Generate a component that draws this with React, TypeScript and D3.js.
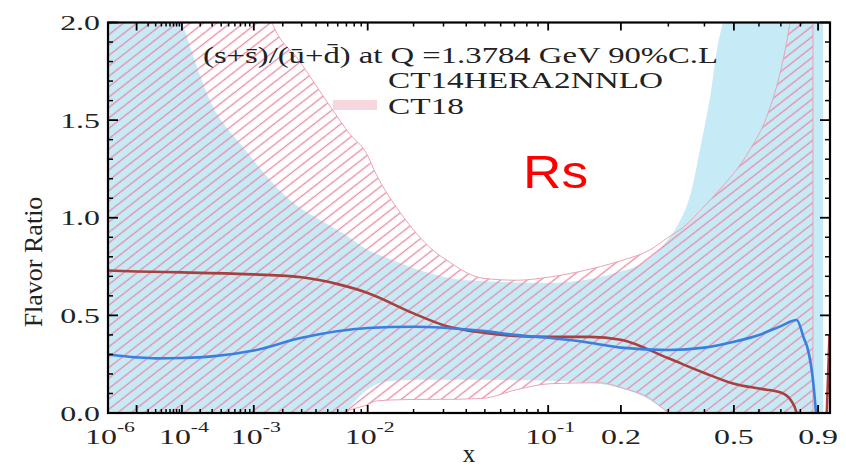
import React from "react";
import * as d3 from "d3";

const W = 846;
const H = 469;

// CT14HERA2NNLO 90% C.L. band (light blue)
const ct14BandX = [1e-6, 1e-5, 1e-4, 2.8e-4, 7.9e-4, 2.35e-3, 5.2e-3, 6.6e-3, 1e-2, 1.3e-2, 2.2e-2, 4e-2, 0.1, 0.15, 0.19, 0.25, 0.3, 0.32, 0.36, 0.39, 0.42, 0.44, 0.46, 0.6, 0.93];
const ct14BandHi = [3.2, 2.7, 2.0, 1.6, 1.35, 1.09, 0.96, 0.92, 0.835, 0.8, 0.73, 0.68, 0.666, 0.685, 0.717, 0.78, 0.89, 0.95, 1.13, 1.38, 1.64, 1.86, 2.0, 3.0, 3.5];
const ct14BandLo = [-0.6, -0.6, -0.6, -0.6, -0.5, -0.3, -0.05, 0.0, 0.12, 0.16, 0.17, 0.17, 0.165, 0.155, 0.135, 0.075, 0.0, -0.03, -0.1, -0.2, -0.3, -0.4, -0.5, -0.6, -0.6];

// CT18 90% C.L. band (pink hatch)
const ct18BandX = [1e-6, 1e-4, 1e-3, 1.56e-3, 2.89e-3, 5.5e-3, 7.4e-3, 9.8e-3, 1.15e-2, 1.64e-2, 2.6e-2, 3.28e-2, 4.05e-2, 4.9e-2, 7.2e-2, 0.102, 0.166, 0.2, 0.257, 0.3, 0.338, 0.4, 0.441, 0.563, 0.635, 0.711, 0.746, 0.87];
const ct18BandHi = [3.5, 3.0, 2.3, 2.0, 1.8, 1.55, 1.43, 1.33, 1.22, 1.03, 0.835, 0.77, 0.717, 0.69, 0.68, 0.697, 0.75, 0.78, 0.835, 0.9, 0.95, 1.06, 1.13, 1.35, 1.52, 1.81, 2.0, 3.0];
const ct18BandLo = [-0.6, -0.6, -0.5, -0.4, -0.2, -0.03, 0.015, 0.04, 0.062, 0.068, 0.07, 0.07, 0.072, 0.075, 0.12, 0.15, 0.155, 0.13, 0.075, 0.0, -0.05, -0.15, -0.25, -0.5, -0.6, -0.6, -0.6, -0.6];

// central curves
const ct14CentralX = [1e-6, 1e-5, 3e-5, 1e-4, 3e-4, 1e-3, 3e-3, 1e-2, 2e-2, 3e-2, 5e-2, 0.07, 0.1, 0.15, 0.2, 0.3, 0.4, 0.5, 0.6, 0.7, 0.78, 0.82, 0.84, 0.87, 0.89];
const ct14Central = [0.3, 0.285, 0.28, 0.282, 0.29, 0.32, 0.385, 0.435, 0.442, 0.437, 0.42, 0.4, 0.385, 0.36, 0.335, 0.323, 0.335, 0.365, 0.4, 0.445, 0.476, 0.38, 0.33, 0.17, -0.02];

const ct18CentralX = [1e-6, 1e-5, 1e-4, 1e-3, 3e-3, 6e-3, 1e-2, 2e-2, 3e-2, 5e-2, 0.07, 0.1, 0.15, 0.2, 0.3, 0.4, 0.5, 0.6, 0.7, 0.75, 0.78, 0.8, 0.85, 0.9, 0.94, 0.955, 0.97];
const ct18Central = [0.73, 0.725, 0.72, 0.71, 0.695, 0.66, 0.615, 0.51, 0.45, 0.41, 0.395, 0.39, 0.39, 0.375, 0.28, 0.205, 0.15, 0.125, 0.105, 0.065, 0.0, -0.15, -0.5, -0.6, -0.3, 0.05, 0.4];

// axes
const yTicks = [0, 0.5, 1, 1.5, 2];
const yTickLabels = ["0.0", "0.5", "1.0", "1.5", "2.0"];
const yMinorTicks = [0.1, 0.2, 0.3, 0.4, 0.6, 0.7, 0.8, 0.9, 1.1, 1.2, 1.3, 1.4, 1.6, 1.7, 1.8, 1.9];
const xTicks = [1e-6, 1e-4, 1e-3, 1e-2, 0.1, 0.2, 0.5, 0.9];
const xTickBase = ["10", "10", "10", "10", "10", "0.2", "0.5", "0.9"];
const xTickExp = ["-6", "-4", "-3", "-2", "-1", "", "", ""];
const xMajorUnlabeled = [1e-5];
const xMinorMantissa = [2, 3, 4, 5, 6, 7, 8, 9];
const xMinorDecades = [1e-5, 1e-4, 1e-3, 1e-2];
const xMinorExtra = [0.3, 0.4, 0.6, 0.7, 0.8];

const legendTitle = "(s+s\u0304)/(u\u0304+d\u0304) at Q =1.3784 GeV 90%C.L";
const legendNames = ["CT14HERA2NNLO", "CT18"];

const L = 108, R = 830, T = 22.5, B = 413;
const SERIF = "'Liberation Serif', 'Times New Roman', serif";

export default function App() {
  const x = d3.scalePow().exponent(0.2).domain([1e-6, 0.973]).range([L, R]);
  const y = d3.scaleLinear().domain([0, 2]).range([B, T]);

  const band = (xs: number[], lo: number[], hi: number[]) =>
    d3
      .area<number>()
      .x((i) => x(xs[i]))
      .y0((i) => y(lo[i]))
      .y1((i) => y(hi[i]))
      .curve(d3.curveMonotoneX)(xs.map((_, i) => i)) || "";
  const edge = (xs: number[], vs: number[]) =>
    d3
      .line<number>()
      .x((i) => x(xs[i]))
      .y((i) => y(vs[i]))
      .curve(d3.curveMonotoneX)(xs.map((_, i) => i)) || "";

  const ct14Band = band(ct14BandX, ct14BandLo, ct14BandHi);
  const ct18Band = band(ct18BandX, ct18BandLo, ct18BandHi);
  const ct14Line = edge(ct14CentralX, ct14Central);
  const ct18Line = edge(ct18CentralX, ct18Central);

  const xMinor = [
    ...xMinorDecades.flatMap((d) => xMinorMantissa.map((m) => m * d)),
    ...xMinorExtra,
  ].filter((v) => !xTicks.includes(v));
  const xMajor = [...xTicks, ...xMajorUnlabeled];

  const stretch = 1.45;

  return (
    <svg width={W} height={H} style={{ position: "absolute", left: 0, top: 0, background: "#fff" }}>
      <defs>
        <clipPath id="plotClip">
          <rect x={L} y={T} width={R - L} height={B - T} />
        </clipPath>
        <pattern id="hatch" patternUnits="userSpaceOnUse" width={8.2} height={8.2} patternTransform="rotate(-38)">
          <line x1={0} y1={4.1} x2={8.2} y2={4.1} stroke="#e98aa3" strokeWidth={1.3} />
        </pattern>
      </defs>

      <g clipPath="url(#plotClip)">
        <path d={ct14Band} fill="#c6eaf6" />
        <path d={ct18Band} fill="url(#hatch)" stroke="#eba3b5" strokeWidth={1} />
        <path d={ct18Line} fill="none" stroke="#a8403f" strokeWidth={2.6} />
        <path d={ct14Line} fill="none" stroke="#3a7fe0" strokeWidth={2.6} />
      </g>

      {/* frame */}
      <rect x={L} y={T} width={R - L} height={B - T} fill="none" stroke="#000" strokeWidth={2.2} />

      {/* y ticks */}
      {yTicks.map((v) => (
        <g key={"ym" + v}>
          <line x1={L} x2={L + 10} y1={y(v)} y2={y(v)} stroke="#000" strokeWidth={1.8} />
          <line x1={R} x2={R - 10} y1={y(v)} y2={y(v)} stroke="#000" strokeWidth={1.8} />
        </g>
      ))}
      {yMinorTicks.map((v) => (
        <g key={"yn" + v}>
          <line x1={L} x2={L + 5} y1={y(v)} y2={y(v)} stroke="#000" strokeWidth={1.5} />
          <line x1={R} x2={R - 5} y1={y(v)} y2={y(v)} stroke="#000" strokeWidth={1.5} />
        </g>
      ))}
      {/* x ticks */}
      {xMajor.map((v) => (
        <g key={"xm" + v}>
          <line x1={x(v)} x2={x(v)} y1={B} y2={B - 8} stroke="#000" strokeWidth={1.8} />
          <line x1={x(v)} x2={x(v)} y1={T} y2={T + 8} stroke="#000" strokeWidth={1.8} />
        </g>
      ))}
      {xMinor.map((v) => (
        <g key={"xn" + v}>
          <line x1={x(v)} x2={x(v)} y1={B} y2={B - 4} stroke="#000" strokeWidth={1.5} />
          <line x1={x(v)} x2={x(v)} y1={T} y2={T + 4} stroke="#000" strokeWidth={1.5} />
        </g>
      ))}

      {/* y tick labels */}
      {yTicks.map((v, i) => (
        <text
          key={"yl" + v}
          transform={`translate(100,${y(v) + 7.5}) scale(${stretch},1)`}
          textAnchor="end"
          fontFamily={SERIF}
          fontSize={22}
          fill="#222"
        >
          {yTickLabels[i]}
        </text>
      ))}
      {/* x tick labels */}
      {xTicks.map((v, i) => (
        <text
          key={"xl" + v}
          transform={`translate(${x(v) + (xTickExp[i] ? 2 : 0)},444) scale(${stretch},1)`}
          textAnchor="middle"
          fontFamily={SERIF}
          fontSize={22}
          fill="#222"
        >
          <tspan>{xTickBase[i]}</tspan>
          {xTickExp[i] ? (
            <tspan dy={-12} fontSize={15}>
              {xTickExp[i]}
            </tspan>
          ) : null}
        </text>
      ))}

      {/* axis titles */}
      <text
        transform="translate(42,262) rotate(-90)"
        textAnchor="middle"
        fontFamily={SERIF}
        fontSize={26}
        fill="#222"
      >
        Flavor Ratio
      </text>
      <text x={469} y={462} textAnchor="middle" fontFamily={SERIF} fontSize={25} fill="#222">
        x
      </text>

      {/* legend */}
      <rect x={333} y={100} width={44} height={10} fill="#f7d6de" />
      <text x={203} y={63} fontFamily={SERIF} fontSize={24} textLength={515} lengthAdjust="spacingAndGlyphs" fill="#222">
        {legendTitle}
      </text>
      <text x={388} y={88} fontFamily={SERIF} fontSize={24} textLength={275} lengthAdjust="spacingAndGlyphs" fill="#222">
        {legendNames[0]}
      </text>
      <text x={388} y={114} fontFamily={SERIF} fontSize={24} textLength={76} lengthAdjust="spacingAndGlyphs" fill="#222">
        {legendNames[1]}
      </text>

      <text
        x={523}
        y={188}
        fontFamily="'Liberation Sans', Arial, sans-serif"
        fontSize={46}
        textLength={65}
        lengthAdjust="spacingAndGlyphs"
        fill="#ff0000"
      >
        Rs
      </text>
    </svg>
  );
}
